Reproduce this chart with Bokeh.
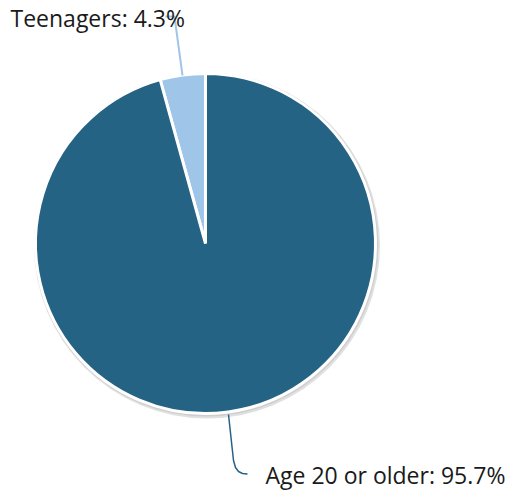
import numpy as np
from bokeh.plotting import figure
from bokeh.models import Range1d
from bokeh.core.properties import value
from bokeh.embed import file_html
from bokeh.resources import INLINE

categories = ["Teenagers", "Age 20 or older"]
shares = [4.3, 95.7]
colors = ["#9fc5e8", "#256384"]
labels = [f"{c}: {v}%" for c, v in zip(categories, shares)]

W, H = 508, 491
p = figure(width=W, height=H, output_backend="svg", toolbar_location=None,
           x_range=Range1d(0, W), y_range=Range1d(0, H), min_border=0)
p.axis.visible = False
p.grid.visible = False
p.outline_line_color = None
p.background_fill_color = "white"

def Y(py):
    return H - py

cx, cy, r = 205, Y(243), 170

# shadow
p.circle(x=[cx + 1.5], y=[cy - 2], radius=r + 3, fill_color="#000000", fill_alpha=0.12, line_color=None)
p.circle(x=[cx + 0.8], y=[cy - 1], radius=r + 2, fill_color="#000000", fill_alpha=0.08, line_color=None)

fr = np.array(shares) / sum(shares)
cum = np.concatenate([[0], np.cumsum(fr)])
start = np.pi / 2 + 2 * np.pi * cum[:-1]
end = np.pi / 2 + 2 * np.pi * cum[1:]
p.wedge(x=cx, y=cy, radius=r, start_angle=start, end_angle=end, direction="anticlock",
        fill_color=colors, line_color="white", line_width=3)

# connectors
p.line(x=[182, 174, 165], y=[Y(75), Y(16), Y(16)], line_color=colors[0], line_width=2)
p.line(x=[228, 233, 235, 238, 242, 247], y=[Y(414), Y(460), Y(467), Y(471), Y(473), Y(473.5)],
       line_color=colors[1], line_width=1.5)

p.text(x=[10, 265], y=[Y(17), Y(474)], text=labels, text_font=value("Open Sans"),
       text_font_size="23px", text_color="#1a1a1a", text_baseline="middle", text_align="left")

open("out.html", "w").write(file_html(p, INLINE))
